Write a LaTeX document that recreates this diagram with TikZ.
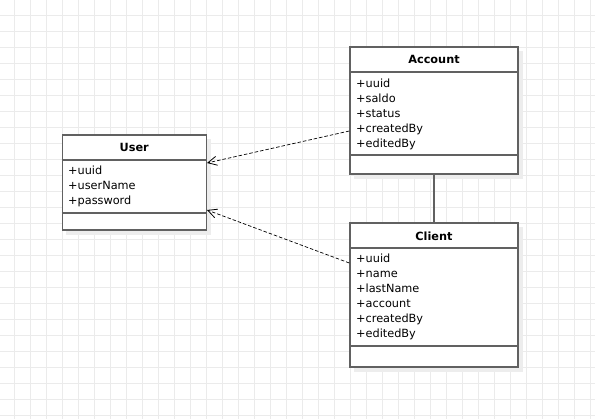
\documentclass[tikz,border=0pt]{standalone}
\usepackage{fontspec}
\setmainfont{DejaVu Sans}
\usetikzlibrary{arrows.meta}

\begin{document}
\begin{tikzpicture}[x=1pt,y=-1pt,
    gridline/.style={draw=black!8,line width=.6pt},
    classbox/.style={draw=black!62,line width=1.4pt,fill=white,inner sep=0pt},
    boxshadow/.style={fill=black!7,draw=none},
    sepline/.style={draw=black!62,line width=1.4pt},
    classname/.style={font=\fontsize{11.3}{13}\selectfont\bfseries,inner sep=0pt},
    attr/.style={font=\fontsize{11.3}{15}\selectfont,anchor=west,inner sep=0pt,text height=8pt,text depth=2pt},
    dep/.style={dash pattern=on 3.5pt off 2pt,line width=.7pt,-{Straight Barb[length=9pt,width=9pt,line width=.8pt]}},
    assoc/.style={draw=black!62,line width=1.4pt}]
  \useasboundingbox (0,0) rectangle (595,419);
  \fill[white] (0,0) rectangle (595,419);

  % grid
  \foreach \i in {0,...,36}
    \draw[gridline] (14.5+16*\i,0) -- (14.5+16*\i,419);
  \foreach \j in {0,...,25}
    \draw[gridline] (0,15+16*\j) -- (595,15+16*\j);

  % shadows
  \fill[boxshadow] (66,139) rectangle (211,235);
  \fill[boxshadow] (354,51) rectangle (523,179);
  \fill[boxshadow] (354,227) rectangle (523,372);

  % User
  \node[classbox,minimum width=144pt,minimum height=95pt] (user) at (134.25,182.5) {};
  \node[classname] (usertitle) at (134.25,147.5) {User};
  \draw[sepline] (user.west |- 0,160) -- (user.east |- 0,160);
  \draw[sepline] (user.west |- 0,213) -- (user.east |- 0,213);
  \foreach \a [count=\i] in {uuid,userName,password}
    \node[attr] (userattr\i) at (68,156.5+15*\i) {+\a};

  % Account
  \node[classbox,minimum width=168pt,minimum height=127pt] (account) at (434,110.5) {};
  \node[classname] (accounttitle) at (434,59.5) {Account};
  \draw[sepline] (account.west |- 0,72) -- (account.east |- 0,72);
  \draw[sepline] (account.west |- 0,155) -- (account.east |- 0,155);
  \foreach \a [count=\i] in {uuid,saldo,status,createdBy,editedBy}
    \node[attr] (accountattr\i) at (356,69.2+15*\i) {+\a};

  % Client
  \node[classbox,minimum width=168pt,minimum height=144pt] (client) at (434,295) {};
  \node[classname] (clienttitle) at (434,236) {Client};
  \draw[sepline] (client.west |- 0,248) -- (client.east |- 0,248);
  \draw[sepline] (client.west |- 0,346) -- (client.east |- 0,346);
  \foreach \a [count=\i] in {uuid,name,lastName,account,createdBy,editedBy}
    \node[attr] (clientattr\i) at (356,244.8+15*\i) {+\a};

  % relations
  \draw[assoc] (account.south) -- (client.north);
  \draw[dep] ([yshift=-20.5pt]account.west) -- ([yshift=19.5pt]user.east);
  \draw[dep] ([yshift=32pt]client.west) -- ([yshift=-27.5pt]user.east);
\end{tikzpicture}
\end{document}
